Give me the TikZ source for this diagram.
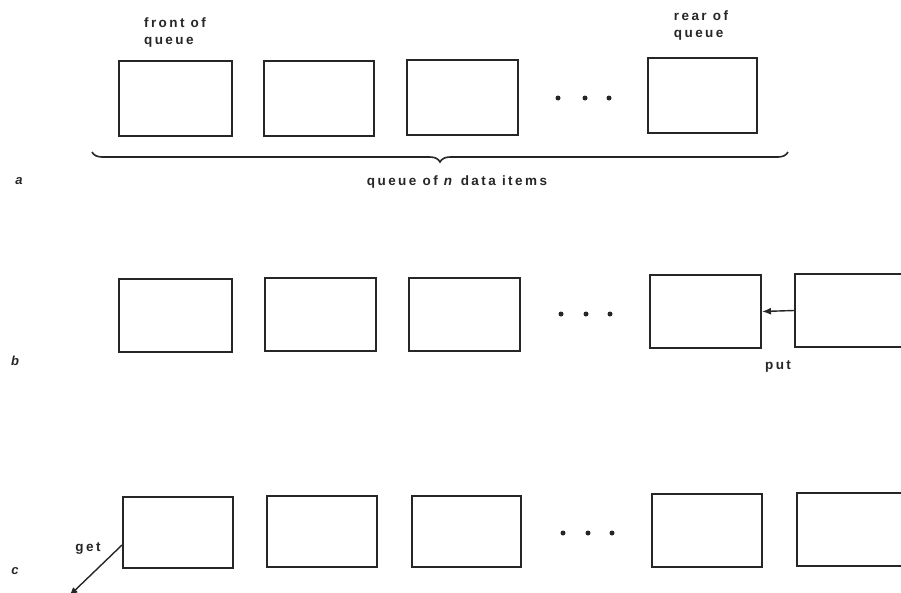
\documentclass[tikz,border=0pt]{standalone}
\usepackage{fontspec}
\setmainfont{Liberation Sans}[LetterSpace=18]
\usetikzlibrary{arrows.meta,decorations.pathreplacing}
\begin{document}
\begin{tikzpicture}[x=1pt,y=-1pt,
  qbox/.style={draw=black!85,line width=2pt,minimum width=#1,minimum height=73pt,inner sep=0pt},
  qbox/.default=110pt,
  lbl/.style={font=\fontsize{13.5}{17}\selectfont\bfseries,text=black!85,align=center,inner sep=0pt},
  rowlbl/.style={font=\fontsize{13}{15}\selectfont\bfseries\itshape,text=black!85,inner sep=0pt},
  dot/.style={circle,fill=black!85,minimum size=5pt,inner sep=0pt},
  conn/.style={draw=black!85,line width=1.4pt,-{Latex[length=9pt,width=7pt]}}]
\useasboundingbox (0,0) rectangle (901,592);
\clip (0,0) rectangle (901,592);
% row a
\node[qbox=113pt,minimum height=75pt] (a1) at (175.5,98.5) {};
\node[qbox=110pt,minimum height=75pt] (a2) at (319,98) {};
\node[qbox=111pt,minimum height=75pt] (a3) at (462.5,97.5) {};
\node[dot] (ad1) at (558,98) {};
\node[dot] (ad2) at (585,98) {};
\node[dot] (ad3) at (609,98) {};
\node[qbox=109pt,minimum height=75pt] (a4) at (702.5,95.5) {};
\node[lbl,align=left] (front) at (175,33) {front of\\queue};
\node[lbl,align=left] (rear) at (701,26) {rear of\\queue};
\coordinate (brl) at (92,152);
\coordinate (brr) at (788,152);
\draw[draw=black!85,line width=1.6pt,decorate,decoration={brace,mirror,amplitude=10pt,aspect=0.5}] (brl) -- (brr);
\node[lbl] (qlab) at (457,182) {queue of \textit{n} data items};
\node[rowlbl] (la) at (19,181) {a};
% row b
\node[qbox=113pt] (b1) at (175.5,315.5) {};
\node[qbox=111pt] (b2) at (320.5,314.5) {};
\node[qbox=111pt] (b3) at (464.5,314) {};
\node[dot] (bd1) at (561,314) {};
\node[dot] (bd2) at (586,314) {};
\node[dot] (bd3) at (610,314) {};
\node[qbox=111pt] (b4) at (705.5,311.5) {};
\node[qbox=111pt] (b5) at (850.5,310.5) {};
\draw[conn] (b5.west) -- (b4.east);
\node[lbl] (put) at (778,366) {put};
\node[rowlbl] (lb) at (15,361) {b};
% row c
\node[qbox=110pt,minimum height=71pt] (c1) at (178,532.5) {};
\node[qbox=110pt,minimum height=71pt] (c2) at (322,531.5) {};
\node[qbox=109pt,minimum height=71pt] (c3) at (466,531) {};
\node[dot] (cd1) at (563,533) {};
\node[dot] (cd2) at (588,533) {};
\node[dot] (cd3) at (612,533) {};
\node[qbox=110pt,minimum height=73pt] (c4) at (707,530.5) {};
\node[qbox=111pt,minimum height=73pt] (c5) at (852.5,529.5) {};
\coordinate (getend) at (69,596);
\draw[conn] ([yshift=-12.5pt]c1.west) -- (getend);
\node[lbl] (get) at (88,549) {get};
\node[rowlbl] (lc) at (15,571) {c};
\end{tikzpicture}
\end{document}
